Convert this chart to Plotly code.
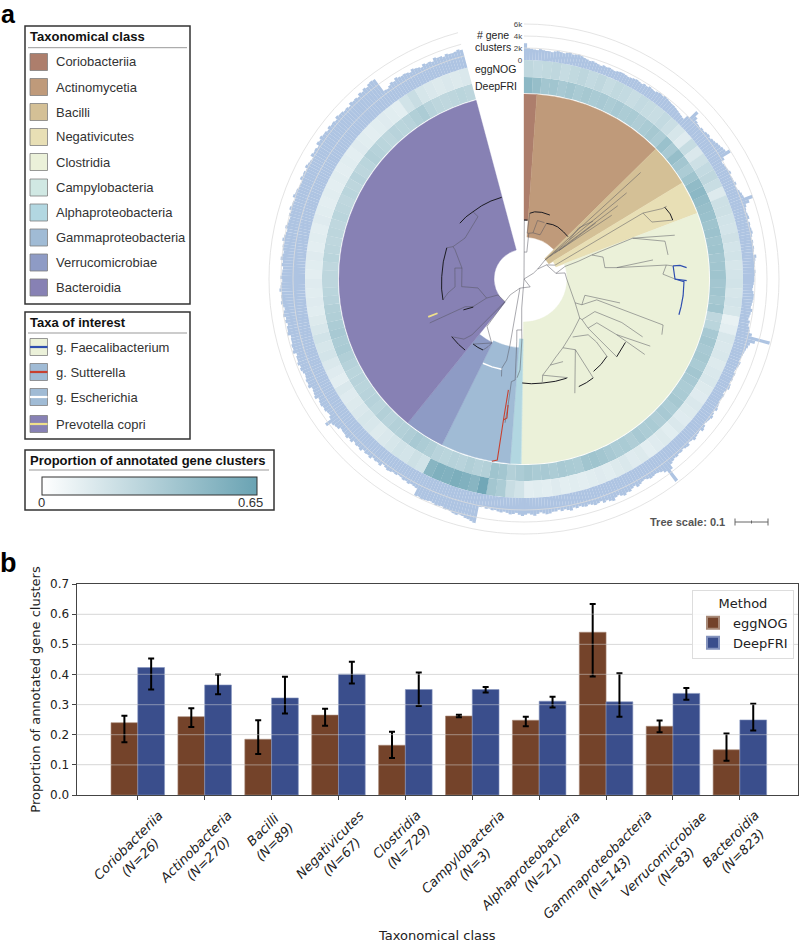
import plotly.graph_objects as go

W, H = 800, 943
CX, CY, OUTER = 524, 279, 260          # polar subplot placement on the page (px)
BASE_PX = 219                          # px radius of the histogram baseline
PX_PER_K = 6.0                         # px per 1000 gene clusters

# ---------- panel a: clades
clade_names = ["Coriobacteriia", "Actinomycetia", "Bacilli", "Negativicutes", "Clostridia",
               "Campylobacteria", "Alphaproteobacteria", "Gammaproteobacteria",
               "Verrucomicrobiae", "Bacteroidia"]
clade_colors = ["#ad7e6c", "#bf9a7a", "#d4c096", "#e8dfb5", "#ebf1d9",
                "#d0e8e3", "#b2d7e1", "#a0bbd5", "#8e9bc5", "#8781b4"]
clade_start = [0, 4, 45.4, 58.7, 69.2, 180.8, 181, 184.3, 206.3, 218.9]
clade_end = [4, 45.4, 58.7, 69.2, 180.8, 181, 184.3, 206.3, 218.9, 345]
clade_inner = [59, 42, 29, 34, 43, 60, 60, 69, 71, 30]
DISC_R = 185

taxa_names = ["g. Faecalibacterium", "g. Sutterella", "g. Escherichia", "Prevotella copri"]
taxa_bg = ["#ebf1d9", "#a0bbd5", "#a0bbd5", "#8781b4"]
taxa_line = ["#2f4fb0", "#c8402f", "#ffffff", "#efe08a"]

# ---------- panel a: # gene clusters (thousands), one value per 0.75 degrees from 0 to 345
hist_k = [
 2.8,2.0,1.9,1.8,1.7,1.9,1.8,1.7,1.7,1.6,1.8,1.9,1.8,1.7,1.9,2.0,1.8,1.9,2.0,1.9,
 1.7,1.6,1.5,1.6,1.5,1.4,1.3,1.5,1.4,1.5,1.4,1.3,1.5,1.6,1.6,1.5,1.4,1.5,1.6,1.7,
 1.6,1.5,1.7,1.6,1.8,1.7,1.6,1.8,1.9,1.8,2.0,1.9,1.8,1.7,1.7,1.6,1.5,1.4,1.3,1.2,
 2.0,3.6,2.9,2.5,2.3,2.2,2.4,2.3,2.5,2.6,2.4,2.6,2.7,2.9,3.0,3.2,3.3,3.9,2.4,1.8,
 1.9,2.0,2.1,2.3,2.0,2.1,2.1,2.3,2.0,2.1,2.3,2.5,2.6,4.0,3.2,2.5,2.3,2.2,2.3,2.4,
 2.1,2.3,2.2,2.3,2.4,2.2,2.0,2.2,2.1,2.2,2.1,1.9,2.4,2.2,2.1,2.0,1.9,2.1,2.0,1.9,
 1.9,1.8,1.7,1.6,1.8,1.9,1.9,1.8,1.7,1.6,1.9,1.7,1.6,1.5,1.8,1.7,1.9,2.1,2.6,5.8,
 3.4,2.7,2.5,2.3,2.2,2.1,2.0,1.9,2.2,2.1,1.9,1.8,2.1,2.0,2.1,1.9,2.2,2.3,2.0,1.8,
 2.1,2.0,1.9,2.1,2.2,2.4,2.1,2.3,2.5,2.3,2.2,2.1,2.4,2.6,2.2,2.3,2.4,2.6,2.3,2.2,
 2.6,2.5,2.3,2.5,2.4,2.6,2.5,2.7,2.9,3.6,5.7,3.4,3.0,2.8,2.7,2.8,2.9,2.7,2.5,2.6,
 2.8,3.0,2.6,2.8,3.1,3.0,3.3,3.1,2.8,3.0,3.4,3.2,2.9,3.1,2.7,2.9,3.0,2.8,2.6,2.8,
 2.7,2.5,2.7,2.5,2.9,2.7,2.5,2.7,2.4,2.6,2.6,2.8,2.9,2.7,2.5,2.7,3.0,2.8,2.6,2.8,
 3.0,2.8,2.5,2.7,2.8,2.6,2.4,2.6,2.5,2.3,2.4,2.2,2.3,2.1,2.2,5.0,4.8,4.6,4.5,4.3,
 4.2,4.4,4.3,4.1,4.0,4.1,3.8,3.9,4.0,3.8,3.7,3.8,3.9,4.0,3.8,3.9,2.7,2.6,2.5,2.7,
 2.5,2.6,2.4,2.3,2.5,2.4,2.6,2.7,2.5,2.3,2.8,2.6,2.7,2.5,2.9,2.7,2.8,2.6,3.0,2.8,
 2.9,2.7,3.1,2.9,3.2,3.0,3.0,2.9,3.3,3.4,3.6,4.5,3.3,3.0,3.1,3.3,3.2,3.4,3.3,3.1,
 3.6,3.4,3.3,3.2,3.7,3.5,3.6,3.4,3.3,3.5,3.7,3.5,3.8,3.6,3.6,3.4,3.9,3.7,3.8,3.6,
 3.6,3.5,4.0,3.8,3.8,3.6,3.9,3.7,4.1,3.9,3.7,3.9,4.2,4.0,4.1,3.9,4.3,4.1,4.0,3.8,
 4.1,3.9,3.8,3.7,4.0,3.8,4.2,4.0,3.8,4.0,4.1,3.9,4.3,4.1,3.9,3.8,4.2,4.0,3.9,3.8,
 4.1,3.9,4.3,4.1,4.1,3.9,4.4,4.2,4.2,4.0,4.0,3.9,4.4,4.2,4.3,4.1,4.5,4.3,4.2,4.1,
 4.6,4.4,4.5,4.3,4.8,4.6,4.9,4.7,4.7,4.5,4.8,4.6,4.7,4.5,4.9,4.7,4.7,4.5,4.6,4.4,
 4.8,4.6,4.7,4.5,4.9,4.7,5.0,4.8,5.1,5.2,5.1,2.6,2.5,2.8,3.1,2.9,3.3,3.1,3.0,3.1,
 3.0,2.8,3.2,3.0,2.9,2.7,3.1,2.9,3.0,2.8,3.3,3.1,3.1,2.9,3.2,3.0,3.0,3.1,3.3,3.1]
HIST_STEP = 0.75

# ---------- panel a: annotated proportions, one value per 2.5 degrees from 0 to 345
deepfri_ring = [
 .50,.46,
 .40,.41,.38,.40,.37,.39,.37,.38,.36,.38,.36,.37,.35,.37,.39,.36,
 .44,.38,.46,.40,.36,.42,
 .48,.50,.47,.45,
 .44,.42,.43,.41,.42,.40,.41,.42,.40,.41,.39,.41,
 .28,.30,
 .38,.40,.38,.39,.37,.40,
 .38,.36,.37,.39,.36,.38,.35,.37,
 .36,.38,.35,.37,.36,.38,
 .40,.42,.41,.36,
 .37,.38,.36,.38,.37,.39,
 .36,.33,.40,.42,
 .33,.32,.34,.31,.32,.30,.31,
 .34,.36,.38,.35,.33,
 .33,.31,.33,.30,.32,.31,.30,.31,
 .30,.32,.34,.37,.36,.38,.36,.34,.33,.31,
 .30,.29,.29,.28,.30,.29,.28,.29,.28,.30,.29,.28,.30,.29,
 .31,.29,.30,.33,.32,.30,.29,.31,
 .30,.31,.34,.36,.31,.29,.28,.29,.30,.29]
eggnog_ring = [
 .28,.26,
 .27,.28,.25,.27,.29,.26,.28,.25,.27,.26,.24,.26,.25,.24,.26,.23,
 .18,.14,.25,.16,.22,.26,
 .28,.24,.15,.22,
 .22,.20,.19,.21,.19,.20,.18,.19,.20,.18,.19,.18,
 .10,.12,
 .17,.16,.17,.15,.16,.17,
 .15,.14,.16,.15,.14,.16,.13,.15,
 .14,.12,.15,.14,.16,.15,
 .13,.14,.13,.12,
 .13,.12,.14,.12,.13,.12,
 .20,.24,.36,.40,
 .62,.52,.55,.57,.55,.56,.52,
 .20,.22,.19,.20,.18,
 .16,.15,.17,.18,.16,.15,.14,.16,
 .12,.14,.16,.19,.18,.20,.17,.15,.13,.14,
 .13,.14,.12,.13,.14,.12,.13,.12,.14,.13,.12,.13,.12,.13,
 .12,.13,.12,.14,.13,.12,.13,.14,
 .13,.12,.20,.24,.18,.16,.15,.16,.15,.16]
RING_STEP = 2.5
RING_COLORSCALE = [[0, "#ffffff"], [1, "#6aa3b3"]]
RING_MAX = 0.65

# ---------- panel a: tree, polylines of (angle in degrees, tree radius)
tree_thin = [
 [(0.3,0),(0.3,59),(3,59)],
 [(0.3,27),(6,27),(6,46),(4,46),(5,66)],
 [(6,46),(11,47),(20,47),(22,60)], [(11,47),(13,60),(20,60)],
 [(0,0),(58.5,11),(54,17),(48,28)], [(54,17),(58,26.6),(66,34)],
 [(58,26.6),(80,32.5),(73,42.8)], [(80,32.5),(81.6,41.4),(90,42.7)],
 [(48,28),(47.6,158)], [(48,28),(50,134)], [(49,34),(52,119)], [(50,40),(54,108.5)],
 [(51,45),(52,91)], [(49,60),(47,75),(50,90)],
 [(66,34),(61,136),(63,155),(63,160)], [(61,136),(66,140),(68.4,160)],
 [(73,42.8),(72,57),(70.5,72),(69.4,116),(73.8,157)], [(69.4,116),(75,146),(80.5,146)],
 [(70.5,72),(74.5,82),(82,81.7),(83,93.4),(81.6,130.4)], [(83,93.4),(84.4,143),(85,149.7)],
 [(84.4,143),(88,139),(90,151)],
 [(90,42.7),(115,56.4),(114,63.3),(105,63),(104,99)],
 [(114,63.3),(106,75.7),(108.3,146.5),(112,148.7)],
 [(115,56.4),(125,68),(137.6,72),(150.5,79),(158.6,85),(163,90),(169,98),(170,105)],
 [(125,68),(125,70.8),(114.7,78),(114,107),(116,132)],
 [(125,70.8),(127.5,80.7),(121,85),(121,108),(118,143)], [(121,108),(122,142.4)],
 [(127.5,80.7),(130,121)],
 [(140,75.7),(131,85),(131,96),(133,113.4)],
 [(150.5,79),(144,87.4),(145,120.7)], [(144,87.4),(156,125)],
 [(163,90),(154.7,91.4)], [(169,98),(156,108)],
 [(0,0),(142,10),(204,10),(221,21),(220,29.6),(238.4,30.5),(243,42),(259,46.9),(263,62.8),(280,63),(279,70),(263.5,69.4)],
 [(243,42),(241.5,58),(244.8,65),(245,104)],
 [(280,63),(293,75),(294.5,78),(304.8,71.8),(323.6,77.5),(322.8,84.4)], [(294.5,78),(292,83.3)],
 [(263.5,69.4),(259.6,77.3),(255.5,83.7)],
 [(220,29.6),(218,60),(206.8,71.7),(208,76.7),(210,82)], [(206.8,71.7),(218,82.6)],
 [(220,29.6),(223,76.6),(225,85),(231.4,92.5)],
 [(0,0),(184.5,29),(182.6,51),(188,51.5),(186.6,63),(185,101.4),(187,103.4),(187.2,127),(187.5,145)],
 [(182.6,51),(182,61),(182.5,91),(184,99)],
 [(204,10),(192,67.5),(192,83),(194,92),(193,100)],
]
tree_leaves = [
 [(0,59),(3.5,59)],
 [(5,66),(9,68),(15,69),(22,69)], [(22,60),(28,61.5),(33,62),(40,61.5),(46,61)],
 [(63,158),(66,160),(68.4,160)],
 [(122,119.6),(130,121)], [(133,113.4),(138,115),(143,115.6)],
 [(145,120.7),(149,121),(153,120.7)], [(156.7,108),(163,107),(170,105.7),(176,105),(181,104)],
 [(241,58),(243,68)],
 [(311,85),(317,85),(322.8,84.4),(330,84.6),(337,84.7),(344.7,84.7)],
 [(255.5,83.7),(263,83),(271.6,82.3),(282,82.5),(292,83.3)],
 [(210,82),(214,82.5),(218,82.6)], [(219.7,92.3),(225,92.5),(231.4,92.5)],
]
tree_faecalibacterium = [
 [(85,149.7),(85,156.6),(86,163)], [(85,149.7),(90,151),(90.6,162.7)],
 [(90,151),(91,160),(96,160),(100,159.5),(103,159)],
]
tree_sutterella = [[(188,112),(188.3,142.5),(188.4,183),(190,185)], [(187.2,127),(187,140),(188.3,142.5)]]
tree_escherichia = [[(194,93),(200,93.5),(206,93.7)]]
tree_prevotella = [[(248.4,93),(248.4,103)]]

# ---------- panel b
bar_classes = ["Coriobacteriia", "Actinobacteria", "Bacilli", "Negativicutes", "Clostridia",
               "Campylobacteria", "Alphaproteobacteria", "Gammaproteobacteria",
               "Verrucomicrobiae", "Bacteroidia"]
bar_n = [26, 270, 89, 67, 729, 3, 21, 143, 83, 823]
eggnog_mean = [.24, .26, .185, .265, .165, .262, .248, .54, .228, .15]
eggnog_hi = [.263, .288, .248, .286, .21, .266, .26, .634, .247, .204]
eggnog_lo = [.175, .226, .136, .23, .123, .258, .228, .393, .208, .114]
deepfri_mean = [.423, .365, .322, .401, .35, .35, .311, .309, .337, .249]
deepfri_hi = [.453, .4, .392, .442, .406, .358, .326, .404, .355, .303]
deepfri_lo = [.35, .334, .27, .37, .295, .34, .29, .26, .316, .214]
y_ticks = [0, .1, .2, .3, .4, .5, .6, .7]


def R(px):
    """tree / ring radius in px-like units -> radial axis value (gene clusters)."""
    return (px - BASE_PX) * 1000 / PX_PER_K


def fx(x):
    return x / W


def fy(y):
    return (H - y) / H


fig = go.Figure()

# clade wedges
for name, col, a, b, rin in zip(clade_names, clade_colors, clade_start, clade_end, clade_inner):
    fig.add_trace(go.Barpolar(theta=[(a + b) / 2], width=[b - a], r=[R(DISC_R) - R(rin)], base=[R(rin)],
                              marker=dict(color=col, line=dict(width=0.4, color=col)), name=name,
                              showlegend=False, hoverinfo="name", subplot="polar"))

# guide circles
guide_theta = list(range(0, 346, 3))
for val in [2000, 4000, 6000]:
    fig.add_trace(go.Scatterpolar(theta=guide_theta, r=[val] * len(guide_theta), mode="lines",
                                  line=dict(color="#dddddd", width=0.8), showlegend=False,
                                  hoverinfo="skip", subplot="polar"))

# heat rings
ring_theta = [RING_STEP * (i + 0.5) for i in range(len(deepfri_ring))]
for vals, r0, r1, nm in [(deepfri_ring, 186, 202, "DeepFRI"), (eggnog_ring, 202, 219, "eggNOG")]:
    fig.add_trace(go.Barpolar(theta=ring_theta, width=[RING_STEP + 0.06] * len(vals),
                              r=[R(r1) - R(r0)] * len(vals), base=[R(r0)] * len(vals),
                              marker=dict(color=vals, coloraxis="coloraxis", line=dict(width=0)),
                              name=nm, showlegend=False, subplot="polar"))

# gene cluster histogram
hist_theta = [HIST_STEP * (i + 0.5) for i in range(len(hist_k))]
fig.add_trace(go.Barpolar(theta=hist_theta, width=[HIST_STEP + 0.02] * len(hist_k),
                          r=[v * 1000 for v in hist_k], base=[0] * len(hist_k),
                          marker=dict(color="#aec4e2", line=dict(width=0)),
                          name="# gene clusters", showlegend=False, subplot="polar"))


def add_tree(lines, color, width):
    th, rr = [], []
    for line in lines:
        th += [p[0] for p in line] + [None]
        rr += [R(p[1]) for p in line] + [None]
    fig.add_trace(go.Scatterpolar(theta=th, r=rr, mode="lines", line=dict(color=color, width=width),
                                  showlegend=False, hoverinfo="skip", subplot="polar"))


add_tree(tree_thin, "#55555f", 0.5)
add_tree(tree_leaves, "#1c1c22", 1.0)
add_tree(tree_faecalibacterium, "#2f4fb0", 1.2)
add_tree(tree_sutterella, "#c8402f", 1.1)
add_tree(tree_escherichia, "#ffffff", 1.5)
add_tree(tree_prevotella, "#efe08a", 1.8)

# panel b bars
x_pos = list(range(len(bar_classes)))
BROWN, BLUE = "#74432a", "#3a4e8c"
for nm, vals, hi, lo, col, edge in [("eggNOG", eggnog_mean, eggnog_hi, eggnog_lo, BROWN, "#a88a78"),
                                    ("DeepFRI", deepfri_mean, deepfri_hi, deepfri_lo, BLUE, "#8493bd")]:
    fig.add_trace(go.Bar(x=x_pos, y=vals, name=nm, xaxis="x", yaxis="y",
                         marker=dict(color=col, line=dict(color=edge, width=0.6)),
                         error_y=dict(type="data", symmetric=False,
                                      array=[h - v for h, v in zip(hi, vals)],
                                      arrayminus=[v - l for l, v in zip(lo, vals)],
                                      color="#000000", thickness=2, width=3)))

DEJAVU = "DejaVu Sans"
LIB = "Liberation Sans"

shapes, annos = [], []


def text(x, y, s, size=13, anchor="left", bold=False, color="#222222", family=LIB):
    annos.append(dict(xref="paper", yref="paper", x=fx(x), y=fy(y), text=f"<b>{s}</b>" if bold else s,
                      showarrow=False, xanchor=anchor, yanchor="middle", align=anchor,
                      font=dict(family=family, size=size, color=color),
                      xshift=0, yshift=0, borderpad=0, borderwidth=0))


def rect(x0, y0, x1, y1, fill="rgba(0,0,0,0)", line="#333333", width=1.5):
    shapes.append(dict(type="rect", xref="paper", yref="paper", x0=fx(x0), x1=fx(x1), y0=fy(y0), y1=fy(y1),
                       fillcolor=fill, line=dict(color=line, width=width), layer="above"))


def hline(x0, x1, y, color="#999999", width=1):
    shapes.append(dict(type="line", xref="paper", yref="paper", x0=fx(x0), x1=fx(x1), y0=fy(y), y1=fy(y),
                       line=dict(color=color, width=width), layer="above"))


def vline(x, y0, y1, color="#666666", width=1):
    shapes.append(dict(type="line", xref="paper", yref="paper", x0=fx(x), x1=fx(x), y0=fy(y0), y1=fy(y1),
                       line=dict(color=color, width=width), layer="above"))


# panel letters
text(1, 14, "a", size=25, bold=True, color="#000000")
text(0, 563, "b", size=27, bold=True, color="#000000")

# class legend
rect(25, 26, 190, 304)
text(30, 36.5, "Taxonomical class", bold=True, color="#111111")
hline(28, 187, 47.7)
leg_y = [62, 87, 112, 137, 162, 187.5, 212.5, 237.5, 262.5, 287.5]
for nm, col, y in zip(clade_names, clade_colors, leg_y):
    rect(30, y - 8.5, 47.5, y + 8.5, fill=col, line="#7f7f7f", width=0.8)
    text(56, y, nm, color="#333333")

# taxa legend
rect(25, 312, 190, 439)
text(30, 322, "Taxa of interest", bold=True, color="#111111")
hline(28, 187, 333)
taxa_y = [347, 372, 397, 424]
for nm, bg, ln, y in zip(taxa_names, taxa_bg, taxa_line, taxa_y):
    rect(30, y - 8.5, 47.5, y + 8.5, fill=bg, line="#7f7f7f", width=0.8)
    hline(30, 47.5, y, color=ln, width=2.2)
    text(56, y, nm, color="#333333")

# colour legend
rect(25, 450, 274, 510)
text(30, 460.5, "Proportion of annotated gene clusters", bold=True, color="#111111")
hline(29, 269, 470)
text(41, 502.5, "0", anchor="center", color="#333333")
text(250, 502.5, "0.65", anchor="center", color="#333333")

# ring labels
text(492.5, 35, "# gene", size=10.5, anchor="center")
text(492.5, 47, "clusters", size=10.5, anchor="center")
text(495.5, 68.5, "eggNOG", size=10.5, anchor="center")
text(495.5, 85.5, "DeepFRI", size=10.5, anchor="center")

# tree scale
text(650, 522, "Tree scale: 0.1", size=11, bold=True, color="#555555")
hline(735, 768, 522, color="#666666", width=1)
vline(735, 518.5, 525.5)
vline(768, 518.5, 525.5)
vline(751.5, 520.5, 523.5)

# panel b horizontal rules over the bars
for v in y_ticks[1:-1]:
    shapes.append(dict(type="line", xref="x domain", yref="y", x0=0, x1=1, y0=v, y1=v,
                       line=dict(color="rgba(215,215,215,0.4)", width=1.2), layer="above"))

# panel b rotated category labels
for i, (nm, n) in enumerate(zip(bar_classes, bar_n)):
    annos.append(dict(xref="x", yref="paper", x=i, y=fy(805), xshift=-3, showarrow=False,
                      text=f"<i>{nm}<br>(N={n})</i>", textangle=-45, xanchor="center", yanchor="top",
                      align="center", font=dict(family=DEJAVU, size=13, color="#222222")))

fig.update_layout(
    width=W, height=H, margin=dict(l=0, r=0, t=0, b=0, autoexpand=False), autosize=False,
    paper_bgcolor="white", plot_bgcolor="white",
    font=dict(family=DEJAVU, color="#222222"),
    shapes=shapes, annotations=annos,
    polar=dict(
        domain=dict(x=[fx(CX - OUTER), fx(CX + OUTER)], y=[fy(CY + OUTER), fy(CY - OUTER)]),
        bgcolor="rgba(0,0,0,0)", barmode="overlay",
        angularaxis=dict(visible=False, direction="clockwise", rotation=90, thetaunit="degrees"),
        radialaxis=dict(range=[R(0), R(OUTER)], angle=90, side="counterclockwise", showgrid=False,
                        showline=False, ticks="", tickvals=[0, 2000, 4000, 6000],
                        ticktext=["0", "2k", "4k", "6k"], tickangle=90,
                        tickfont=dict(family=LIB, size=8, color="#444444")),
    ),
    coloraxis=dict(colorscale=RING_COLORSCALE, cmin=0, cmax=RING_MAX,
                   colorbar=dict(orientation="h", thicknessmode="pixels", thickness=18, lenmode="pixels",
                                 len=215, x=fx(149.5), xanchor="center", y=fy(496), yanchor="bottom",
                                 xpad=0, ypad=0, outlinecolor="#333333", outlinewidth=1, borderwidth=0,
                                 tickvals=[0, RING_MAX], showticklabels=False, ticks="")),
    barmode="group", bargap=0.2, bargroupgap=0,
    xaxis=dict(domain=[fx(76.5), fx(798)], anchor="y", range=[-0.916, 9.869], tickvals=x_pos,
               ticktext=[""] * len(x_pos), ticks="outside", ticklen=4, tickcolor="#444444",
               showgrid=False, showline=True, mirror=True, linecolor="#444444", linewidth=1, zeroline=False,
               title=dict(text="Taxonomical class", font=dict(family=DEJAVU, size=13), standoff=132)),
    yaxis=dict(domain=[fy(795), fy(584)], anchor="x", range=[0, 0.7], tickvals=y_ticks,
               ticktext=[f"{v:.1f}" for v in y_ticks], ticks="outside", ticklen=4, tickcolor="#444444",
               tickfont=dict(family=DEJAVU, size=12), showgrid=True, gridcolor="#e2e2e2", gridwidth=1,
               showline=True, mirror=True, linecolor="#444444", linewidth=1, zeroline=False,
               title=dict(text="Proportion of annotated gene clusters", font=dict(family=DEJAVU, size=13),
                          standoff=6)),
    legend=dict(x=fx(692), xanchor="left", y=fy(590), yanchor="top", bgcolor="rgba(255,255,255,0.85)",
                bordercolor="#dddddd", borderwidth=1, font=dict(family=DEJAVU, size=13),
                title=dict(text="Method", side="top center", font=dict(family=DEJAVU, size=13)),
                itemsizing="constant", tracegroupgap=0),
)

fig.write_html("out.html", config=dict(displayModeBar=False),
               post_script="document.body.style.margin='0';")
